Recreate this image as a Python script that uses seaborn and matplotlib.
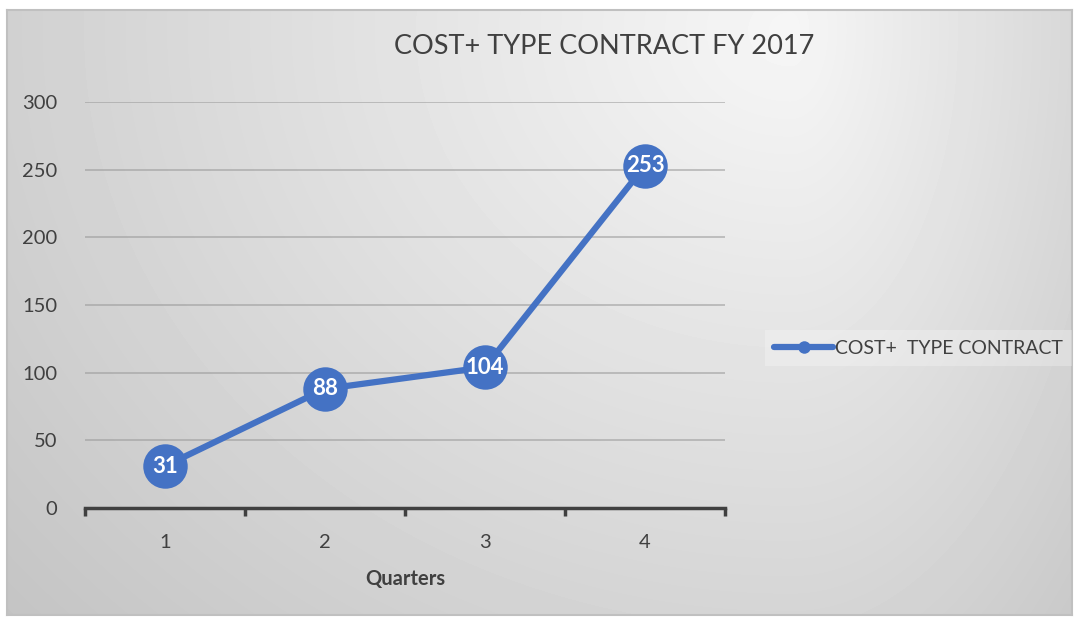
import numpy as np
import pandas as pd
import matplotlib
matplotlib.use("Agg")
import matplotlib.pyplot as plt
from matplotlib.lines import Line2D
import seaborn as sns

# Data
quarters = [1, 2, 3, 4]
contracts = [31, 88, 104, 253]
series_name = "COST+  TYPE CONTRACT"
title = "COST+ TYPE CONTRACT FY 2017"
x_label = "Quarters"
y_ticks = [0, 50, 100, 150, 200, 250, 300]

df = pd.DataFrame({"Quarter": quarters, "Contracts": contracts})

sns.set_theme(style="white")
plt.rcParams["font.family"] = ["Lato", "DejaVu Sans"]

W, H = 1075, 618
fig = plt.figure(figsize=(W / 100, H / 100), dpi=100, facecolor="white")

# Chart area with a soft radial gray gradient
x0, y0, x1, y1 = 7, 10, 1072, 615
bg = fig.add_axes([x0 / W, 1 - y1 / H, (x1 - x0) / W, (y1 - y0) / H])
yy, xx = np.mgrid[y0:y1, x0:x1].astype(float)
cx, cy = 790.0, 30.0
dx = xx - cx
sx = np.where(dx < 0, 850.0, 380.0)
d = np.sqrt((dx / sx) ** 2 + ((yy - cy) / 720.0) ** 2)
shade = np.clip(0.965 - 0.16 * d, 0.76, 1.0)
bg.imshow(shade, cmap="gray", vmin=0, vmax=1, aspect="auto",
          extent=[x0, x1, y1, y0], interpolation="bilinear")
bg.set_xticks([])
bg.set_yticks([])
for s in bg.spines.values():
    s.set_color("#c0c0c0")
    s.set_linewidth(1.5)

# Plot area
px0, px1, py0, py1 = 85, 725, 102, 508
ax = fig.add_axes([px0 / W, 1 - py1 / H, (px1 - px0) / W, (py1 - py0) / H])
ax.patch.set_alpha(0)

blue = "#4472C4"
sns.lineplot(data=df, x="Quarter", y="Contracts", ax=ax, color=blue,
             linewidth=4.5, marker="o", markersize=32, markeredgewidth=0,
             legend=False, zorder=3)

for q, v in zip(quarters, contracts):
    ax.text(q, v, str(v), ha="center", va="center", color="white",
            fontsize=16, fontweight="bold", zorder=4)

ax.set_xlim(0.5, 4.5)
ax.set_ylim(0, 300)
ax.set_yticks(y_ticks)
ax.set_xticks(quarters)
ax.set_xticks(np.arange(0.5, 4.6, 1.0), minor=True)
ax.tick_params(axis="x", which="major", bottom=False, length=0, pad=19,
               labelsize=14.5, labelcolor="#404040")
ax.tick_params(axis="x", which="minor", bottom=True, length=6, width=2.5,
               color="#404040", direction="out")
ax.tick_params(axis="y", left=False, length=0, pad=20, labelsize=14.5,
               labelcolor="#404040")
ax.yaxis.grid(True, color="#9a9a9a", alpha=0.6, linewidth=1.3, zorder=0)
ax.set_axisbelow(True)
for side in ["top", "right", "left"]:
    ax.spines[side].set_visible(False)
ax.spines["bottom"].set_color("#404040")
ax.spines["bottom"].set_linewidth(2.5)
ax.set_xlabel(x_label, fontsize=14.5, fontweight="bold", color="#404040",
              labelpad=13)
ax.set_ylabel("")

fig.text(604 / W, 1 - 46 / H, title, ha="center", va="center",
         fontsize=19.5, color="#404040")

handle = Line2D([0], [0], color=blue, linewidth=4.5, marker="o",
                markersize=9, markeredgewidth=0)
leg = fig.legend([handle], [series_name], loc="center left",
                 bbox_to_anchor=(755 / W, 1 - 348 / H),
                 fontsize=14, frameon=True, handlelength=3.0,
                 handletextpad=0.1, borderpad=0.5, fancybox=False,
                 labelcolor="#404040")
leg.get_frame().set_facecolor("white")
leg.get_frame().set_alpha(0.25)
leg.get_frame().set_edgecolor("none")

fig.savefig("out.png", dpi=100, facecolor="white")
